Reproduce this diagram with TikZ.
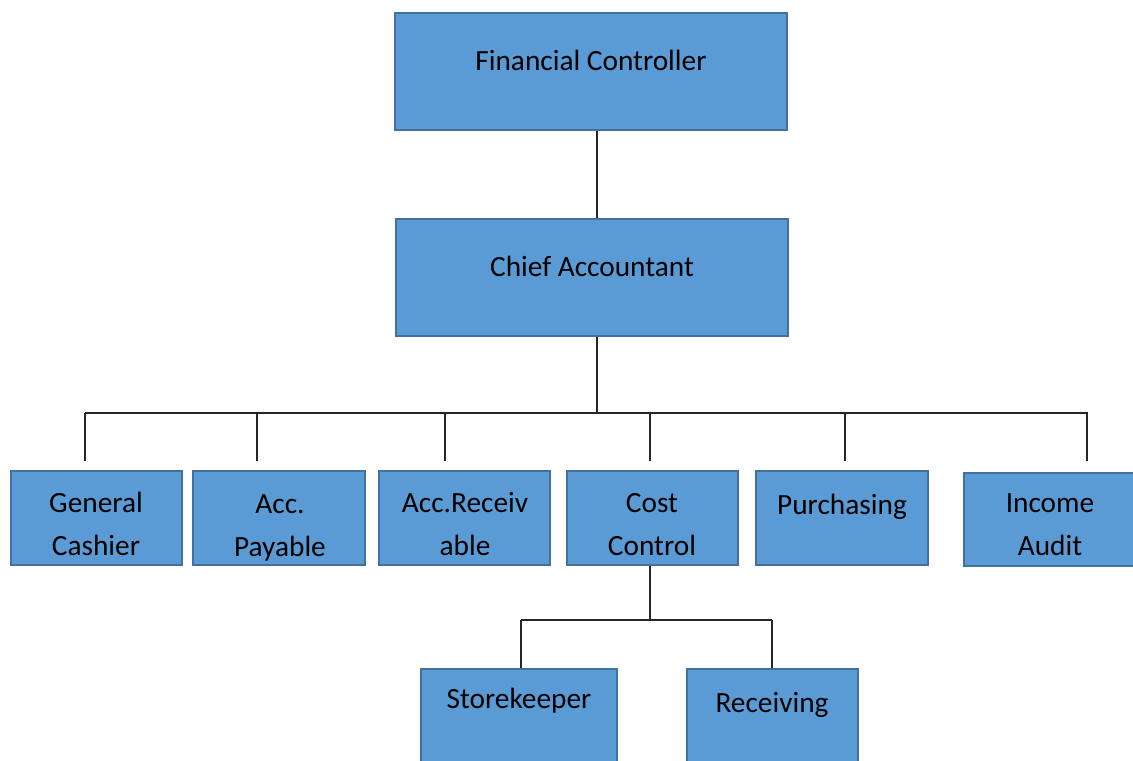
\documentclass[tikz,border=0pt]{standalone}
\usepackage{fontspec}
\setmainfont{Carlito}
\begin{document}
\begin{tikzpicture}[x=0.75pt,y=-0.75pt,
  box/.style 2 args={draw=boxborder,fill=boxfill,line width=1.6pt,minimum width=#1*0.75pt-1.6pt,minimum height=#2*0.75pt-1.6pt,inner sep=0pt},
  txt/.style={font=\fontsize{22}{32.3}\selectfont,align=center,text=black,inner sep=0pt},
  conn/.style={draw=black!85,line width=0.8pt}]
\definecolor{boxfill}{HTML}{5B9BD5}
\definecolor{boxborder}{HTML}{41719C}
\useasboundingbox (0,0) rectangle (1133,761);
\clip (0,0) rectangle (1133,761);
% boxes
\node[box={394}{119}] (fc) at (591,71.5) {};
\node[box={394}{119}] (ca) at (592,277.5) {};
\node[box={173}{96}] (gc) at (96.5,518) {};
\node[box={174}{96}] (ap) at (279,518) {};
\node[box={173}{96}] (ar) at (464.5,518) {};
\node[box={173}{96}] (cc) at (652.5,518) {};
\node[box={174}{96}] (pu) at (842,518) {};
\node[box={182}{95}] (ia) at (1054,519.5) {};
\node[box={198}{102}] (sk) at (519,719) {};
\node[box={173}{102}] (rc) at (772.5,719) {};
% texts
\node[txt] (tfc) at (591,60) {Financial Controller};
\node[txt] (tca) at (592,266) {Chief Accountant};
\node[txt] (tgc) at (96,524) {General\\Cashier};
\node[txt] (tap) at (280,528) {Acc.\\Payable};
\node[txt] (tar) at (465,524) {Acc.Receiv\\able};
\node[txt] (tcc) at (652,524.5) {Cost\\Control};
\node[txt] (tpu) at (842,507) {Purchasing};
\node[txt] (tia) at (1050,524.5) {Income\\Audit};
\node[txt] (tsk) at (519,701) {Storekeeper};
\node[txt] (trc) at (772,705) {Receiving};
% connector coordinates
\coordinate (x1) at (597,0);
\coordinate (bus) at (597,413);
\coordinate (bl) at (85,413);
\coordinate (br) at (1088,413);
\coordinate (d1) at (85,461);
\coordinate (u2) at (257,413);
\coordinate (d2) at (257,461);
\coordinate (u3) at (445,413);
\coordinate (d3) at (445,461);
\coordinate (u4) at (650,413);
\coordinate (d4) at (650,461);
\coordinate (u5) at (845,413);
\coordinate (d5) at (845,461);
\coordinate (d6) at (1087,461);
\coordinate (u6) at (1087,413);
\coordinate (sub) at (650,620);
\coordinate (sl) at (521,620);
\coordinate (sr) at (772,620);
% connectors
\draw[conn] (fc.south -| x1) -- (ca.north -| x1);
\draw[conn] (ca.south -| x1) -- (bus);
\draw[conn] (bl) -- (br);
\draw[conn] (bl) -- (d1);
\draw[conn] (u2) -- (d2);
\draw[conn] (u3) -- (d3);
\draw[conn] (u4) -- (d4);
\draw[conn] (u5) -- (d5);
\draw[conn] (u6) -- (d6);
\draw[conn] (cc.south -| sub) -- (sub);
\draw[conn] (sl) -- (sr);
\draw[conn] (sl) -- (sk.north -| sl);
\draw[conn] (sr) -- (rc.north -| sr);
\end{tikzpicture}
\end{document}
